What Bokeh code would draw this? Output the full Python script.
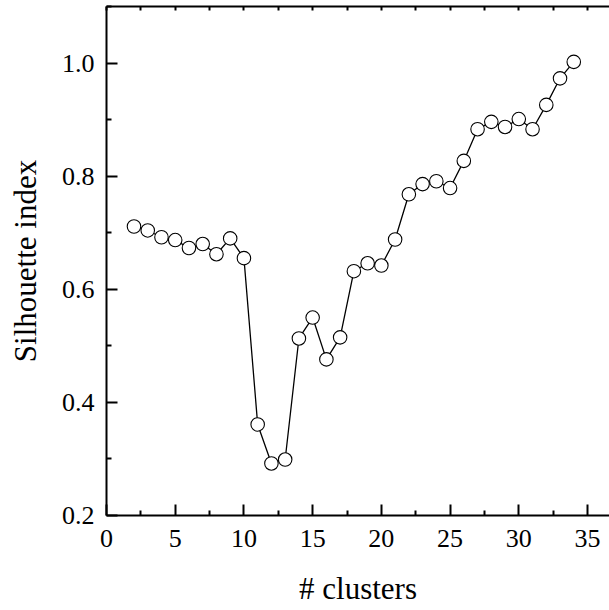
from bokeh.plotting import figure
from bokeh.models import Range1d, FixedTicker, LinearAxis, PrintfTickFormatter
from bokeh.embed import file_html
from bokeh.resources import INLINE

clusters = list(range(2, 35))
silhouette = [0.711, 0.704, 0.692, 0.687, 0.673, 0.680, 0.662, 0.690, 0.655,
              0.361, 0.292, 0.299, 0.513, 0.550, 0.476, 0.515, 0.632, 0.646,
              0.642, 0.688, 0.768, 0.786, 0.791, 0.779, 0.827, 0.883, 0.896,
              0.887, 0.901, 0.883, 0.926, 0.973, 1.002]
x_ticks = [0, 5, 10, 15, 20, 25, 30, 35]
x_minor = [2.5, 7.5, 12.5, 17.5, 22.5, 27.5, 32.5]
top_ticks = [0, 2.5, 5, 7.5, 10, 12.5, 15, 17.5, 20, 22.5, 25, 27.5, 30, 32.5, 35]
y_ticks = [0.2, 0.4, 0.6, 0.8, 1.0]
y_minor = [0.3, 0.5, 0.7, 0.9, 1.1]
x_label = "# clusters"
y_label = "Silhouette index"

FONT = "Liberation Serif"

p = figure(width=609, height=610, output_backend="svg", toolbar_location=None,
           x_range=Range1d(0, 36.6), y_range=Range1d(0.2, 1.1),
           min_border_left=106, min_border_right=0, min_border_top=6,
           min_border_bottom=95)
p.outline_line_color = None
p.xgrid.visible = False
p.ygrid.visible = False
p.background_fill_color = "white"
p.border_fill_color = "white"

p.line(clusters, silhouette, line_color="black", line_width=1.3)
p.scatter(clusters, silhouette, size=13.5, marker="circle", fill_color="white",
          line_color="black", line_width=1.1)

xa = p.xaxis[0]
xa.ticker = FixedTicker(ticks=x_ticks, minor_ticks=x_minor)
xa.axis_label = x_label
xa.axis_label_standoff = 21
xa.major_label_standoff = 14

ya = p.yaxis[0]
ya.ticker = FixedTicker(ticks=y_ticks, minor_ticks=y_minor)
ya.formatter = PrintfTickFormatter(format="%.1f")
ya.axis_label = y_label
ya.axis_label_standoff = 16
ya.major_label_standoff = 12

for ax in (xa, ya):
    ax.axis_label_text_font = FONT
    ax.axis_label_text_font_size = "31px"
    ax.axis_label_text_font_style = "normal"
    ax.axis_label_text_color = "black"
    ax.major_label_text_font = FONT
    ax.major_label_text_font_size = "26px"
    ax.major_label_text_color = "black"
    ax.axis_line_width = 2
    ax.axis_line_color = "black"
    ax.major_tick_line_width = 2
    ax.minor_tick_line_width = 2
    ax.major_tick_in = 11
    ax.major_tick_out = 0
    ax.minor_tick_in = 5
    ax.minor_tick_out = 0

top = LinearAxis(ticker=FixedTicker(ticks=[], minor_ticks=top_ticks))
top.axis_line_width = 2
top.minor_tick_line_width = 2
top.major_tick_in = 0
top.major_tick_out = 0
top.minor_tick_in = 4
top.minor_tick_out = 0
p.add_layout(top, "above")

open("out.html", "w").write(file_html(p, INLINE))
